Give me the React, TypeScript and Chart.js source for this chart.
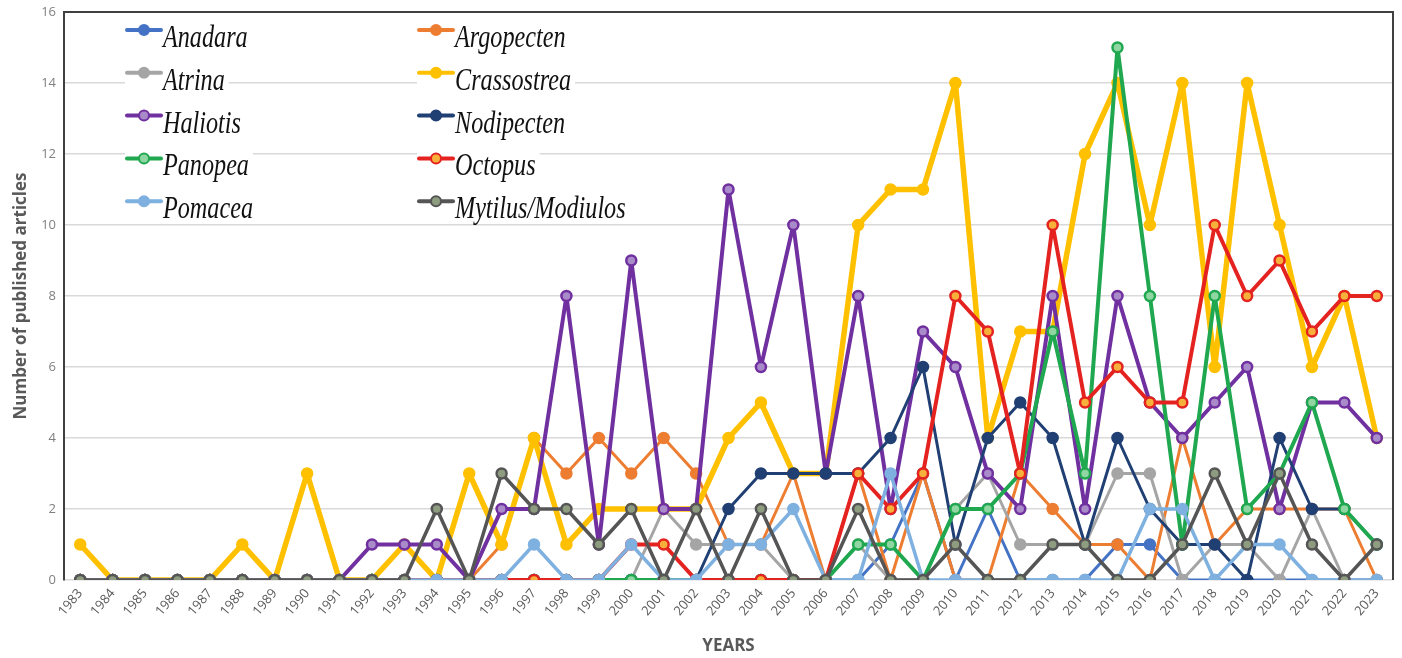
import React, { useEffect, useRef } from "react";
import { Chart, registerables } from "chart.js";

Chart.register(...registerables);

// ---------- DATA ----------
const years = [
  "1983", "1984", "1985", "1986", "1987", "1988", "1989", "1990", "1991", "1992",
  "1993", "1994", "1995", "1996", "1997", "1998", "1999", "2000", "2001", "2002",
  "2003", "2004", "2005", "2006", "2007", "2008", "2009", "2010", "2011", "2012",
  "2013", "2014", "2015", "2016", "2017", "2018", "2019", "2020", "2021", "2022", "2023",
];

const anadara = [
  0, 0, 0, 0, 0, 0, 0, 0, 0, 0,
  0, 0, 0, 0, 0, 0, 0, 0, 0, 0,
  0, 0, 0, 0, 0, 1, 3, 0, 2, 0,
  0, 0, 1, 1, 0, 0, 0, 0, 0, 0, 0,
];
const argopecten = [
  0, 0, 0, 0, 0, 0, 0, 0, 0, 0,
  0, 0, 0, 1, 4, 3, 4, 3, 4, 3,
  1, 1, 3, 0, 3, 0, 3, 0, 0, 3,
  2, 1, 1, 0, 4, 1, 2, 2, 2, 2, 0,
];
const atrina = [
  0, 0, 0, 0, 0, 0, 0, 0, 0, 0,
  0, 0, 0, 0, 0, 0, 0, 0, 2, 1,
  1, 1, 0, 0, 1, 0, 0, 2, 3, 1,
  1, 1, 3, 3, 0, 1, 1, 0, 2, 0, 0,
];
const crassostrea = [
  1, 0, 0, 0, 0, 1, 0, 3, 0, 0,
  1, 0, 3, 1, 4, 1, 2, 2, 2, 2,
  4, 5, 3, 3, 10, 11, 11, 14, 4, 7,
  7, 12, 14, 10, 14, 6, 14, 10, 6, 8, 4,
];
const haliotis = [
  0, 0, 0, 0, 0, 0, 0, 0, 0, 1,
  1, 1, 0, 2, 2, 8, 1, 9, 2, 2,
  11, 6, 10, 3, 8, 2, 7, 6, 3, 2,
  8, 2, 8, 5, 4, 5, 6, 2, 5, 5, 4,
];
const nodipecten = [
  0, 0, 0, 0, 0, 0, 0, 0, 0, 0,
  0, 0, 0, 0, 0, 0, 0, 0, 0, 0,
  2, 3, 3, 3, 3, 4, 6, 1, 4, 5,
  4, 1, 4, 2, 1, 1, 0, 4, 2, 2, 1,
];
const panopea = [
  0, 0, 0, 0, 0, 0, 0, 0, 0, 0,
  0, 0, 0, 0, 0, 0, 0, 0, 0, 0,
  0, 0, 0, 0, 1, 1, 0, 2, 2, 3,
  7, 3, 15, 8, 1, 8, 2, 3, 5, 2, 1,
];
const octopus = [
  0, 0, 0, 0, 0, 0, 0, 0, 0, 0,
  0, 0, 0, 0, 0, 0, 0, 1, 1, 0,
  0, 0, 0, 0, 3, 2, 3, 8, 7, 3,
  10, 5, 6, 5, 5, 10, 8, 9, 7, 8, 8,
];
const pomacea = [
  0, 0, 0, 0, 0, 0, 0, 0, 0, 0,
  0, 0, 0, 0, 1, 0, 0, 1, 0, 0,
  1, 1, 2, 0, 0, 3, 0, 0, 0, 0,
  0, 0, 0, 2, 2, 0, 1, 1, 0, 0, 0,
];
const mytilus = [
  0, 0, 0, 0, 0, 0, 0, 0, 0, 0,
  0, 2, 0, 3, 2, 2, 1, 2, 0, 2,
  0, 2, 0, 0, 2, 0, 0, 1, 0, 0,
  1, 1, 0, 0, 1, 3, 1, 3, 1, 0, 1,
];

const seriesNames = [
  "Anadara", "Argopecten", "Atrina", "Crassostrea", "Haliotis",
  "Nodipecten", "Panopea", "Octopus", "Pomacea", "Mytilus/Modiulos",
];
const seriesValues = [
  anadara, argopecten, atrina, crassostrea, haliotis,
  nodipecten, panopea, octopus, pomacea, mytilus,
];

// ---------- STYLES ----------
const seriesColors = [
  "#4472C4", "#ED7D31", "#A5A5A5", "#FFC000", "#7030A0",
  "#203F73", "#1FA84F", "#E42320", "#7EB0E0", "#555555",
];
const pointFills = [
  "#4472C4", "#ED7D31", "#A5A5A5", "#FFC000", "#A88BC8",
  "#203F73", "#8FD6A2", "#F7B03A", "#7EB0E0", "#8E9C80",
];
const lineWidths = [3, 3, 3, 5.5, 4, 3, 4, 4, 3.5, 3.5];

const legendPlugin = {
  id: "overlayLegend",
  afterDatasetsDraw(chart: any) {
    const ctx = chart.ctx as CanvasRenderingContext2D;
    const sx = 0.78;
    chart.data.datasets.forEach((ds: any, i: number) => {
      const col = i % 2;
      const row = Math.floor(i / 2);
      const lx = col === 0 ? 127 : 419;
      const my = 30 + row * 42.8;
      const baseline = my + 17;
      const tx = lx + 36;
      ctx.save();
      ctx.font = 'italic 31px "Liberation Serif", serif';
      const w = ctx.measureText(ds.label).width * sx;
      ctx.fillStyle = "#ffffff";
      ctx.fillRect(lx - 2, my - 9, tx - lx + w + 6, baseline - my + 8);
      // marker line
      ctx.strokeStyle = ds.borderColor;
      ctx.lineWidth = 4;
      ctx.lineCap = "round";
      ctx.beginPath();
      ctx.moveTo(lx, my);
      ctx.lineTo(lx + 34, my);
      ctx.stroke();
      ctx.beginPath();
      ctx.arc(lx + 17, my, 5, 0, Math.PI * 2);
      ctx.fillStyle = ds.pointBackgroundColor;
      ctx.fill();
      ctx.lineWidth = 2;
      ctx.stroke();
      // text
      ctx.translate(tx, baseline);
      ctx.scale(sx, 1);
      ctx.fillStyle = "#111111";
      ctx.textBaseline = "alphabetic";
      ctx.fillText(ds.label, 0, 0);
      ctx.restore();
    });
  },
};

const framePlugin = {
  id: "frame",
  afterDraw(chart: any) {
    const { ctx, chartArea } = chart;
    ctx.save();
    ctx.strokeStyle = "#404040";
    ctx.lineWidth = 2;
    ctx.beginPath();
    ctx.moveTo(chartArea.left, chartArea.top);
    ctx.lineTo(chartArea.right, chartArea.top);
    ctx.lineTo(chartArea.right, chartArea.bottom);
    ctx.stroke();
    ctx.restore();
  },
};

export default function App() {
  const canvasRef = useRef<HTMLCanvasElement | null>(null);

  useEffect(() => {
    document.body.style.margin = "0";
    const canvas = canvasRef.current;
    if (!canvas) return;
    Chart.defaults.font.family = '"Open Sans", "Liberation Sans", sans-serif';

    const datasets = seriesNames.map((name, i) => ({
      label: name,
      data: seriesValues[i],
      borderColor: seriesColors[i],
      backgroundColor: seriesColors[i],
      pointBackgroundColor: pointFills[i],
      pointBorderColor: seriesColors[i],
      pointBorderWidth: 2.5,
      pointRadius: 5,
      borderWidth: lineWidths[i],
      borderJoinStyle: "round",
      borderCapStyle: "round",
      tension: 0,
      fill: false,
      order: -i,
    }));

    const chart = new Chart(canvas, {
      type: "line",
      data: { labels: years, datasets },
      options: {
        animation: false,
        responsive: false,
        devicePixelRatio: 1,
        layout: { padding: { top: 12, right: 9, left: 0, bottom: 0 } },
        plugins: {
          legend: { display: false },
          tooltip: { enabled: false },
        },
        scales: {
          x: {
            offset: true,
            grid: { display: false, drawTicks: false },
            border: { display: false },
            ticks: {
              color: "#595959",
              font: { size: 13 },
              minRotation: 50,
              maxRotation: 50,
              autoSkip: false,
              padding: 6,
            },
            title: {
              display: true,
              text: "YEARS",
              color: "#595959",
              font: { size: 17, weight: "bold" },
              padding: { top: 0, bottom: 2 },
            },
            afterFit(scale: any) {
              scale.height = 78;
            },
          },
          y: {
            min: 0,
            max: 16,
            ticks: {
              stepSize: 2,
              color: "#808080",
              font: { size: 13 },
              padding: 8,
            },
            grid: { color: "#d9d9d9", drawTicks: false, lineWidth: 1.5 },
            border: { display: true, color: "#404040", width: 2 },
            title: {
              display: true,
              text: "Number of published articles",
              color: "#595959",
              font: { size: 17, weight: "bold" },
              padding: { top: 11, bottom: 4 },
            },
            afterFit(scale: any) {
              scale.width = 64;
              scale.paddingTop = 0;
              scale.paddingBottom = 0;
            },
          },
        },
      },
      plugins: [framePlugin, legendPlugin],
    } as any);

    return () => chart.destroy();
  }, []);

  return (
    <div style={{ width: 1402, height: 658, position: "relative", background: "#ffffff" }}>
      <canvas ref={canvasRef} width={1402} height={658} />
    </div>
  );
}
